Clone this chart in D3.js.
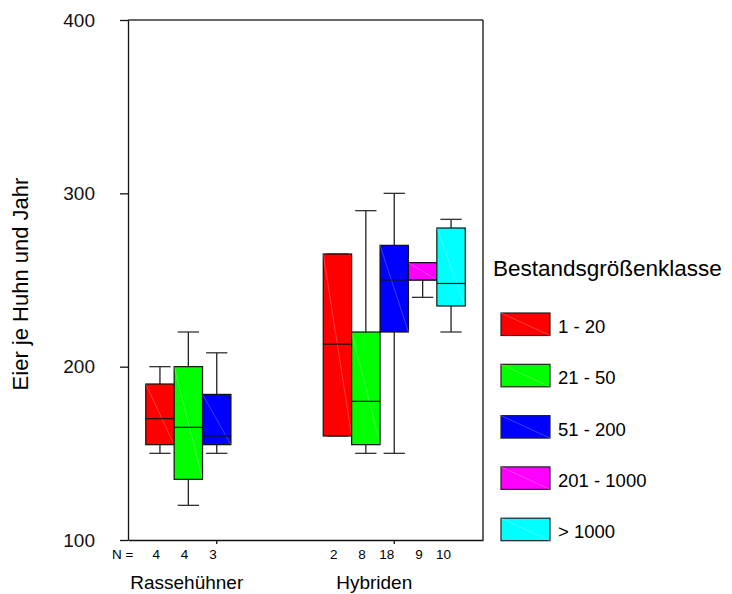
<!DOCTYPE html>
<html>
<head>
<meta charset="utf-8">
<script src="https://cdn.jsdelivr.net/npm/d3@7"></script>
<style>
  body { margin: 0; background: #fff; }
  svg { font-family: "Liberation Sans", Arial, sans-serif; }
</style>
</head>
<body>
<div id="chart"></div>
<script>
// data
const groups = ["Rassehühner", "Hybriden"];
const classes = ["1 - 20", "21 - 50", "51 - 200", "201 - 1000", "> 1000"];
const colours = ["#ff0000", "#00ff00", "#0000ff", "#ff00ff", "#00ffff"];
const yTicks = [100, 200, 300, 400];

// one row per group, one entry per class (null = no box)
const mins    = [[150, 120, 150, null, null], [160, 150, 150, 240, 220]];
const q1s     = [[155, 135, 155, null, null], [160, 155, 220, 250, 235]];
const medians = [[170, 165, 160, null, null], [213, 180, 250, 250, 248]];
const q3s     = [[190, 200, 184, null, null], [265, 220, 270, 260, 280]];
const maxs    = [[200, 220, 208, null, null], [265, 290, 300, 260, 285]];
const counts  = [[4, 4, 3, null, null], [2, 8, 18, 9, 10]];

// label offsets of the group names (they are not centred on the tick)
const groupLabelShift = [-30, -20];

const margin = { top: 20, right: 249, bottom: 54, left: 128 },
  width = 732 - margin.left - margin.right,
  height = 594 - margin.top - margin.bottom;

const svg = d3.select("#chart")
  .append("svg")
    .attr("width", 732)
    .attr("height", 594)
  .append("g")
    .attr("transform", `translate(${margin.left},${margin.top})`);

// scales
let x0 = d3.scaleBand()
  .domain(groups)
  .range([0, width])
  .padding(0);

let x1 = d3.scaleBand()
  .domain(classes)
  .range([0, x0.bandwidth() * 0.8])
  .padding(0);

let y = d3.scaleLinear()
  .domain([100, 400])
  .range([height, 0]);

const colour = d3.scaleOrdinal().domain(classes).range(colours);

// flatten into box records
let boxes = [];
groups.forEach(function (g, gi) {
  classes.forEach(function (c, ci) {
    if (q1s[gi][ci] == null) return;
    boxes.push({
      group: g, cls: c,
      min: mins[gi][ci], q1: q1s[gi][ci], med: medians[gi][ci],
      q3: q3s[gi][ci], max: maxs[gi][ci], n: counts[gi][ci]
    });
  });
});

function boxLeft(d) { return x0(d.group) + x0.bandwidth() * 0.1 + x1(d.cls); }
function boxMid(d) { return boxLeft(d) + x1.bandwidth() / 2; }
const capW = x1.bandwidth() * 0.75;

// frame (top and right)
svg.append("line")
  .attr("x1", 0).attr("x2", width).attr("y1", 0).attr("y2", 0)
  .attr("stroke", "#333").attr("stroke-width", 1.3);
svg.append("line")
  .attr("x1", width).attr("x2", width).attr("y1", 0).attr("y2", height)
  .attr("stroke", "#111").attr("stroke-width", 1.3);

// whiskers
let bg = svg.append("g").selectAll("g")
  .data(boxes)
  .enter().append("g");

bg.append("line")
  .attr("x1", boxMid).attr("x2", boxMid)
  .attr("y1", d => y(d.max)).attr("y2", d => y(d.q3))
  .attr("stroke", "#222").attr("stroke-width", 1.3);
bg.append("line")
  .attr("x1", boxMid).attr("x2", boxMid)
  .attr("y1", d => y(d.q1)).attr("y2", d => y(d.min))
  .attr("stroke", "#222").attr("stroke-width", 1.3);
bg.append("line")
  .attr("x1", d => boxMid(d) - capW / 2).attr("x2", d => boxMid(d) + capW / 2)
  .attr("y1", d => y(d.max)).attr("y2", d => y(d.max))
  .attr("stroke", "#333").attr("stroke-width", 1.3);
bg.append("line")
  .attr("x1", d => boxMid(d) - capW / 2).attr("x2", d => boxMid(d) + capW / 2)
  .attr("y1", d => y(d.min)).attr("y2", d => y(d.min))
  .attr("stroke", "#333").attr("stroke-width", 1.3);

// boxes
bg.append("rect")
  .attr("x", boxLeft)
  .attr("y", d => y(d.q3))
  .attr("width", x1.bandwidth())
  .attr("height", d => y(d.q1) - y(d.q3))
  .attr("fill", d => colour(d.cls))
  .attr("stroke", "#111")
  .attr("stroke-width", 1.2);

// faint diagonal inside each box
bg.append("line")
  .attr("x1", boxLeft).attr("y1", d => y(d.q3))
  .attr("x2", d => boxLeft(d) + x1.bandwidth()).attr("y2", d => y(d.q1))
  .attr("stroke", "#fff").attr("stroke-opacity", 0.35).attr("stroke-width", 0.7);

// median
bg.append("line")
  .attr("x1", boxLeft).attr("x2", d => boxLeft(d) + x1.bandwidth())
  .attr("y1", d => y(d.med)).attr("y2", d => y(d.med))
  .attr("stroke", "#111").attr("stroke-width", 1.2);

// axes
svg.append("g")
  .attr("class", "y axis")
  .call(d3.axisLeft(y).tickValues(yTicks).tickSize(8).tickPadding(25).tickSizeOuter(0))
  .call(g => g.selectAll("text").attr("font-size", 19).attr("fill", "#111"))
  .call(g => g.selectAll("line, path").attr("stroke", "#111").attr("stroke-width", 1.3));

svg.append("g")
  .attr("class", "x axis")
  .attr("transform", `translate(0, ${height})`)
  .call(d3.axisBottom(x0).tickSize(4).tickSizeOuter(0).tickFormat(""))
  .call(g => g.selectAll("line, path").attr("stroke", "#111").attr("stroke-width", 1.3));

// N counts
svg.append("text")
  .attr("x", 5.5).attr("y", height + 19)
  .attr("text-anchor", "end")
  .attr("font-size", 13.5)
  .text("N =");

svg.append("g").selectAll("text")
  .data(boxes)
  .enter().append("text")
  .attr("x", boxMid)
  .attr("y", height + 19)
  .attr("text-anchor", "end")
  .attr("font-size", 13.5)
  .text(d => d.n);

// group labels
svg.append("g").selectAll("text")
  .data(groups)
  .enter().append("text")
  .attr("x", (d, i) => x0(d) + x0.bandwidth() / 2 + groupLabelShift[i])
  .attr("y", height + 49)
  .attr("text-anchor", "middle")
  .attr("font-size", 19)
  .text(d => d);

// y title
svg.append("text")
  .attr("transform", `translate(${28 - margin.left}, ${height / 2 + 4}) rotate(-90)`)
  .attr("text-anchor", "middle")
  .attr("font-size", 22)
  .text("Eier je Huhn und Jahr");

// legend
const legend = svg.append("g")
  .attr("transform", `translate(${width + 10}, 0)`);

legend.append("text")
  .attr("x", 0).attr("y", 256)
  .attr("font-size", 22.5)
  .text("Bestandsgrößenklasse");

let items = legend.selectAll(".item")
  .data(classes)
  .enter().append("g")
  .attr("class", "item")
  .attr("transform", (d, i) => `translate(8, ${293 + i * 51.3})`);

items.append("rect")
  .attr("width", 49).attr("height", 22.5)
  .attr("fill", d => colour(d))
  .attr("stroke", "#222").attr("stroke-width", 1.2);

items.append("line")
  .attr("x1", 0).attr("y1", 0).attr("x2", 49).attr("y2", 22.5)
  .attr("stroke", "#fff").attr("stroke-opacity", 0.35).attr("stroke-width", 0.7);

items.append("text")
  .attr("x", 57).attr("y", 20)
  .attr("font-size", 18.5)
  .text(d => d);
</script>
</body>
</html>
